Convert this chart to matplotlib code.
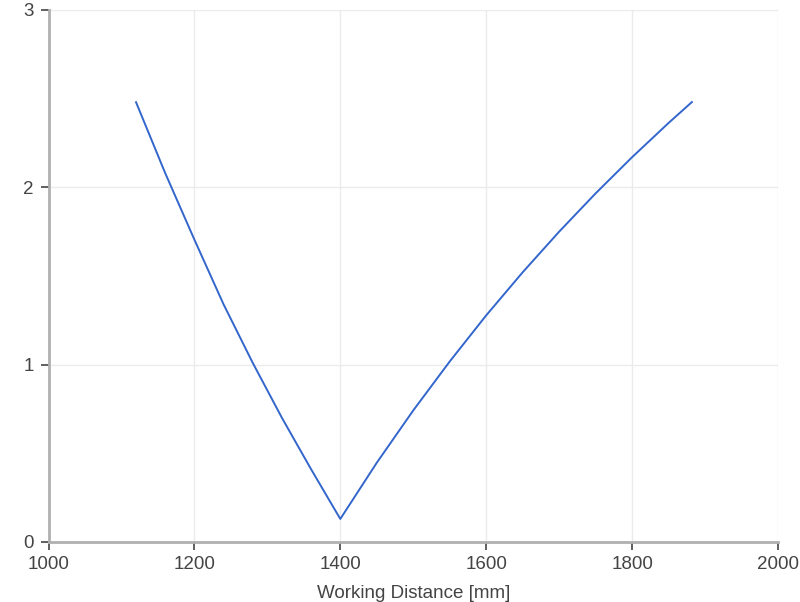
import matplotlib
matplotlib.use("Agg")
import matplotlib.pyplot as plt

plt.rcParams['font.family'] = ['Liberation Sans', 'DejaVu Sans']

distance = [1120, 1160, 1200, 1240, 1280, 1320, 1360, 1400,
            1450, 1500, 1550, 1600, 1650, 1700, 1750, 1800, 1850, 1882]
value = [2.48, 2.08, 1.705, 1.34, 1.01, 0.70, 0.41, 0.13,
         0.447, 0.742, 1.018, 1.278, 1.521, 1.75, 1.966, 2.17, 2.363, 2.481]
x_ticks = [1000, 1200, 1400, 1600, 1800, 2000]
y_ticks = [0, 1, 2, 3]
x_label = "Working Distance [mm]"

fig = plt.figure(figsize=(8, 6.02), dpi=100)
ax = fig.add_axes([48.5/800, 1-542/602, (778-48.5)/800, (542-10)/602])

ax.plot(distance, value, color='#3366cc', lw=1.4)

ax.set_xlim(1000, 2000)
ax.set_ylim(0, 3)
ax.set_xticks(x_ticks)
ax.set_yticks(y_ticks)
ax.grid(True, color='#ebebeb', lw=1)
ax.set_axisbelow(True)
for s in ['top', 'right']:
    ax.spines[s].set_visible(False)
for s in ['left', 'bottom']:
    ax.spines[s].set_color('#b0b0b0')
    ax.spines[s].set_linewidth(2)
ax.tick_params(axis='both', colors='#444444', labelcolor='#444444',
               length=5.5, width=1.2, labelsize=13.5, direction='out')
ax.tick_params(axis='x', pad=4.5)
ax.tick_params(axis='y', pad=5)
ax.set_xlabel(x_label, fontsize=13.5, color='#444444', labelpad=9)

fig.savefig("out.png", dpi=100)
